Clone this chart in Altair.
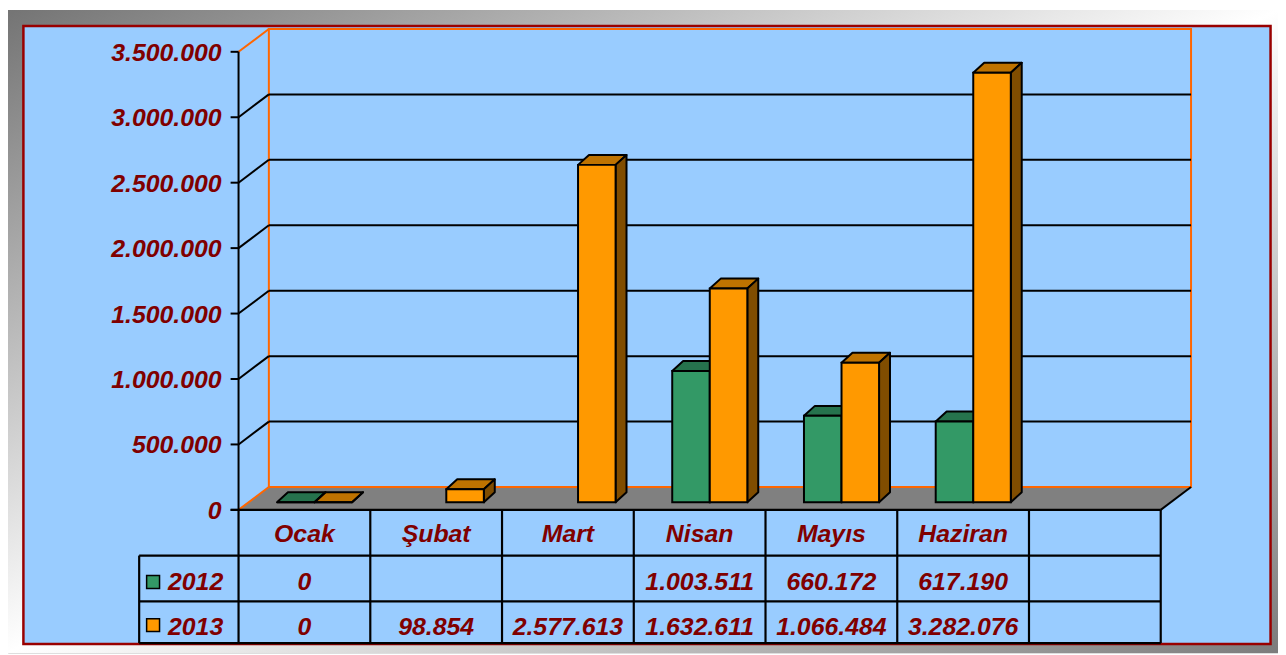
import altair as alt
import pandas as pd

# ---------------- data ----------------
categories = ["Ocak", "Şubat", "Mart", "Nisan", "Mayıs", "Haziran"]
series_names = ["2012", "2013"]
values_2012 = [0, None, None, 1003511, 660172, 617190]
values_2013 = [0, 98854, 2577613, 1632611, 1066484, 3282076]
y_ticks = [0, 500000, 1000000, 1500000, 2000000, 2500000, 3000000, 3500000]

front_colors = ["#339966", "#FF9900"]
top_colors = ["#26734D", "#BF7300"]
side_colors = ["#1A4D33", "#804D00"]

# ---------------- layout ----------------
W, H = 1278, 647
N_SLOTS = 7                      # 6 months + one empty table column
X0_PX, CAT_PX = 232.0, 132.57    # pixel start of category axis, pixels per category
Y0_PX, PX_PER_UNIT = 503.0, 131.7e-6
x_domain = [-X0_PX / CAT_PX, (W - X0_PX) / CAT_PX]
y_domain = [-(H - Y0_PX) / PX_PER_UNIT, Y0_PX / PX_PER_UNIT]

def dx(px):
    return px / CAT_PX

def dy(px):
    return px / PX_PER_UNIT

def x_at(px):
    return (px - X0_PX) / CAT_PX

def y_at(px):
    return (Y0_PX - px) / PX_PER_UNIT

WALL_DX, WALL_DY = dx(30.5), dy(23)
BAR_DX0, BAR_DY0 = dx(10.2), dy(7.7)
BAR_DX, BAR_DY = dx(11), dy(10)
BAR_W = 0.285
TOP = y_ticks[-1]

FONT = "Liberation Sans"
TXT = "#800000"
ORANGE_LINE = "#FF6600"

xs = alt.Scale(domain=x_domain, nice=False, zero=False)
ys = alt.Scale(domain=y_domain, nice=False, zero=False)


def X(f="x"):
    return alt.X(f"{f}:Q", scale=xs, axis=None)


def Y(f="y"):
    return alt.Y(f"{f}:Q", scale=ys, axis=None)


def fmt(v):
    return "" if v is None else f"{v:,}".replace(",", ".")


one = pd.DataFrame({"k": [0]})

# background gradient
gradient = alt.LinearGradient(
    gradient="linear", x1=0, y1=0, x2=1, y2=1,
    stops=[alt.GradientStop(color="#747474", offset=0),
           alt.GradientStop(color="#ffffff", offset=0.5),
           alt.GradientStop(color="#7c7c7c", offset=1)])
bg = alt.Chart(one).mark_rect(fill=gradient).encode(
    x=alt.value(0), x2=alt.value(W), y=alt.value(0), y2=alt.value(H))

panel = alt.Chart(one).mark_rect(fill="#99CCFF", stroke="#990000", strokeWidth=2.5).encode(
    x=alt.value(15.5), x2=alt.value(1270.5), y=alt.value(16), y2=alt.value(638))

# floor
floor_df = pd.DataFrame({
    "x": [0, WALL_DX, N_SLOTS, N_SLOTS + WALL_DX],
    "y": [0, 0, 0, WALL_DY],
    "y2": [0, WALL_DY, WALL_DY, WALL_DY]})
floor = alt.Chart(floor_df).mark_area(fill="#808080", orient="vertical", interpolate="linear").encode(
    x=X(), y=Y(), y2="y2:Q")

# back wall
wall_df = pd.DataFrame({"x": [WALL_DX], "x2": [N_SLOTS + WALL_DX], "y": [WALL_DY], "y2": [TOP + WALL_DY]})
wall = alt.Chart(wall_df).mark_rect(fill="#99CCFF", stroke=ORANGE_LINE, strokeWidth=2).encode(
    x=X(), x2="x2:Q", y=Y(), y2="y2:Q")

grid_df = pd.DataFrame({"x": WALL_DX, "x2": N_SLOTS + WALL_DX,
                        "y": [v + WALL_DY for v in y_ticks[1:-1]]})
grid = alt.Chart(grid_df).mark_rule(color="black", strokeWidth=2).encode(x=X(), x2="x2:Q", y=Y())

diag_rows = []
for v in y_ticks:
    diag_rows.append({"x": 0, "x2": WALL_DX, "y": v, "y2": v + WALL_DY,
                      "c": ORANGE_LINE if v in (0, TOP) else "black"})
diag_rows.append({"x": N_SLOTS, "x2": N_SLOTS + WALL_DX, "y": 0, "y2": WALL_DY, "c": "black"})
diag = alt.Chart(pd.DataFrame(diag_rows)).mark_rule(strokeWidth=2).encode(
    x=X(), x2="x2:Q", y=Y(), y2="y2:Q", color=alt.Color("c:N", scale=None))

# front value axis: line, ticks and labels from the tick list through the y scale
axis_df = pd.DataFrame({"x": [0], "y": [0], "y2": [TOP]})
front_axis = alt.Chart(axis_df).mark_rule(color="black", strokeWidth=2).encode(
    x=X(), y=Y(), y2="y2:Q")
tick_df = pd.DataFrame({"x": x_at(224), "x2": 0, "y": y_ticks, "xl": x_at(215),
                        "t": [fmt(v) for v in y_ticks]})
ticks = alt.Chart(tick_df).mark_rule(color="black", strokeWidth=2).encode(x=X(), x2="x2:Q", y=Y())
tick_labels = alt.Chart(tick_df).mark_text(
    font=FONT, fontSize=25, fontWeight="bold", fontStyle="italic", color=TXT,
    align="right", baseline="middle", dy=1).encode(x=X("xl"), y=Y(), text="t:N")

# bars
front_rows, top_rows, side_rows = [], [], []
for s_idx, vals in enumerate([values_2012, values_2013]):
    for i, v in enumerate(vals):
        if v is None:
            continue
        bid = f"{s_idx}-{i}"
        x0 = i + 0.5 - BAR_W + s_idx * BAR_W + BAR_DX0
        y0 = BAR_DY0
        yt = y0 + v
        front_rows.append({"x": x0, "x2": x0 + BAR_W, "y": y0, "y2": yt, "c": front_colors[s_idx]})
        for (xx, a, b) in [(x0, yt, yt), (x0 + BAR_DX, yt, yt + BAR_DY),
                           (x0 + BAR_W, yt, yt + BAR_DY), (x0 + BAR_W + BAR_DX, yt + BAR_DY, yt + BAR_DY)]:
            top_rows.append({"id": bid, "x": xx, "y": a, "y2": b, "c": top_colors[s_idx]})
        for (xx, a, b) in [(x0 + BAR_W, y0, yt), (x0 + BAR_W + BAR_DX, y0 + BAR_DY, yt + BAR_DY)]:
            side_rows.append({"id": bid, "x": xx, "y": a, "y2": b, "c": side_colors[s_idx]})

bar_top = alt.Chart(pd.DataFrame(top_rows)).mark_area(
    orient="vertical", interpolate="linear", stroke="black", strokeWidth=2, strokeJoin="round").encode(
    x=X(), y=Y(), y2="y2:Q", detail="id:N", fill=alt.Fill("c:N", scale=None))
bar_side = alt.Chart(pd.DataFrame(side_rows)).mark_area(
    orient="vertical", interpolate="linear", stroke="black", strokeWidth=2, strokeJoin="round").encode(
    x=X(), y=Y(), y2="y2:Q", detail="id:N", fill=alt.Fill("c:N", scale=None))
bar_front = alt.Chart(pd.DataFrame(front_rows)).mark_rect(stroke="black", strokeWidth=2).encode(
    x=X(), x2="x2:Q", y=Y(), y2="y2:Q", fill=alt.Fill("c:N", scale=None))

# data table
LEGEND_LEFT = x_at(132)
ROW_PX = [503, 549, 595, 637]
tline_rows = [{"x": x_at(224), "x2": N_SLOTS, "y": y_at(ROW_PX[0]), "y2": y_at(ROW_PX[0])}]
for rp in ROW_PX[1:]:
    tline_rows.append({"x": LEGEND_LEFT, "x2": N_SLOTS, "y": y_at(rp), "y2": y_at(rp)})
for i in range(N_SLOTS + 1):
    tline_rows.append({"x": i, "x2": i, "y": y_at(ROW_PX[0]), "y2": y_at(ROW_PX[3])})
tline_rows.append({"x": LEGEND_LEFT, "x2": LEGEND_LEFT, "y": y_at(ROW_PX[1]), "y2": y_at(ROW_PX[3])})
table_lines = alt.Chart(pd.DataFrame(tline_rows)).mark_rule(color="black", strokeWidth=2.2).encode(
    x=X(), x2="x2:Q", y=Y(), y2="y2:Q")

TEXT_BASE_PX = [535, 583.7, 628.7]
cell_rows = []
for i, c in enumerate(categories):
    cell_rows.append({"x": i + 0.5, "y": y_at(TEXT_BASE_PX[0]), "t": c})
    cell_rows.append({"x": i + 0.5, "y": y_at(TEXT_BASE_PX[1]), "t": fmt(values_2012[i])})
    cell_rows.append({"x": i + 0.5, "y": y_at(TEXT_BASE_PX[2]), "t": fmt(values_2013[i])})
cells = alt.Chart(pd.DataFrame(cell_rows)).mark_text(
    font=FONT, fontSize=25, fontWeight="bold", fontStyle="italic", color=TXT,
    align="center", baseline="alphabetic").encode(x=X(), y=Y(), text="t:N")

legend_df = pd.DataFrame({
    "x": [x_at(146)] * 2, "xt": [x_at(161)] * 2,
    "y": [y_at(575.5), y_at(619)], "yt": [y_at(TEXT_BASE_PX[1]), y_at(TEXT_BASE_PX[2])],
    "s": series_names, "c": front_colors})
legend_keys = alt.Chart(legend_df).mark_square(size=169, opacity=1, stroke="black", strokeWidth=1.5).encode(
    x=X(), y=Y(), fill=alt.Fill("c:N", scale=None))
legend_text = alt.Chart(legend_df).mark_text(
    font=FONT, fontSize=25, fontWeight="bold", fontStyle="italic", color=TXT,
    align="left", baseline="alphabetic").encode(x=X("xt"), y=Y("yt"), text="s:N")

chart = alt.layer(
    bg, panel, floor, wall, grid, diag, front_axis, ticks, tick_labels,
    bar_top, bar_side, bar_front,
    table_lines, cells, legend_keys, legend_text
).properties(
    width=W, height=H, padding=0, autosize=alt.AutoSizeParams(type="none")
).configure_view(stroke=None).configure(background="white")

chart.save("out.html", embed_options={"renderer": "svg", "actions": False})
